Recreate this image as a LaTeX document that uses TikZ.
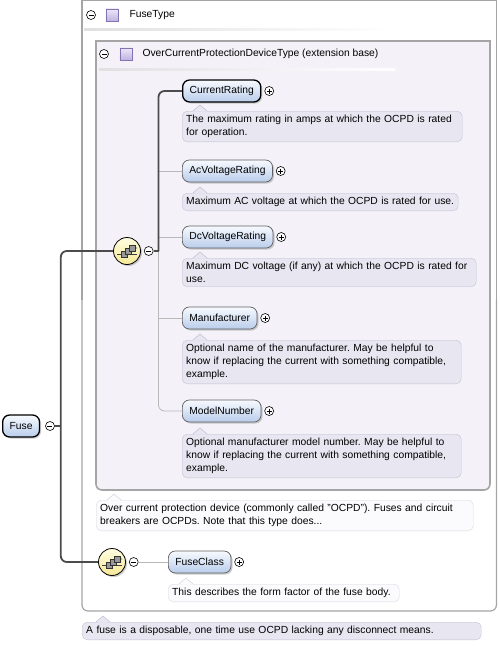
\documentclass[tikz,border=0pt]{standalone}
\usepackage{fontspec}
\setmainfont{Liberation Sans}
\usetikzlibrary{positioning,shadows}
\frenchspacing

\definecolor{pilltop}{RGB}{247,250,255}
\definecolor{pillbot}{RGB}{186,205,235}
\definecolor{pillline}{RGB}{95,95,95}
\definecolor{descfill}{RGB}{232,230,241}
\definecolor{descline}{RGB}{196,193,211}
\definecolor{notefill}{RGB}{251,251,253}
\definecolor{noteline}{RGB}{216,215,224}
\definecolor{innerfill}{RGB}{244,242,248}
\definecolor{boxline}{RGB}{165,165,165}
\definecolor{seqtop}{RGB}{255,253,225}
\definecolor{seqbot}{RGB}{245,232,150}
\definecolor{icontop}{RGB}{236,232,248}
\definecolor{iconbot}{RGB}{190,178,224}
\definecolor{iconline}{RGB}{130,115,178}

\tikzset{
  elem/.style={draw=pillline, line width=0.7pt, rounded corners=7pt, top color=pilltop, bottom color=pillbot,
    minimum height=22pt, inner xsep=7pt, anchor=west,
    drop shadow={shadow xshift=1.5pt, shadow yshift=-1.5pt, fill=black!40}},
  reqelem/.style={elem, draw=black, line width=1.3pt},
  desc/.style={draw=descline, fill=descfill, rounded corners=5pt, align=left, anchor=north west,
    inner xsep=4pt, inner ysep=4pt, text width=#1},
  note/.style={desc=#1, draw=noteline, fill=notefill},
  toggle/.style={circle, draw=black, fill=white, minimum size=9pt, inner sep=0pt, line width=0.6pt},
  minus/.style={toggle, path picture={
    \draw ([xshift=2pt]path picture bounding box.west) -- ([xshift=-2pt]path picture bounding box.east);}},
  plus/.style={toggle, path picture={
    \draw ([xshift=2pt]path picture bounding box.west) -- ([xshift=-2pt]path picture bounding box.east);
    \draw ([yshift=-2pt]path picture bounding box.north) -- ([yshift=2pt]path picture bounding box.south);}},
  seq/.style={circle, draw=black, line width=0.8pt, inner sep=0pt, minimum size=27pt,
    top color=seqtop, bottom color=seqbot,
    drop shadow={shadow xshift=1.5pt, shadow yshift=-1.5pt, fill=black!40}},
  typeicon/.style={draw=iconline, top color=icontop, bottom color=iconbot, minimum size=12.5pt, inner sep=0pt},
  wire/.style={draw=black!70, line width=1.8pt, rounded corners=6pt},
  thinwire/.style={draw=black!28, line width=0.8pt, rounded corners=6pt},
  headline/.style={left color=black!12, right color=white},
  seqicon/.pic={
    \draw[black!75, line width=0.7pt] (-10pt,-3pt) -- (10pt,-3pt);
    \draw[black!75, line width=0.7pt] (-3pt,-3pt) -- (1pt,0pt) -- (5pt,3pt) -- (10pt,3pt);
    \foreach \bx/\by in {-3/-3, 1/0, 5/3}
      \draw[black!80, fill=black!40, line width=0.5pt] (\bx pt-2.8pt,\by pt-2.8pt) rectangle (\bx pt+2.8pt,\by pt+2.8pt);
  }
}

% notch on the top edge of a description box
\newcommand{\descnotch}[4]{%
  \fill[#3] ([xshift=#2pt,yshift=-0.7pt]#1.north west) -- ++(7pt,6.7pt) -- ++(7pt,-6.7pt) -- cycle;
  \draw[#4, line width=0.6pt] ([xshift=#2pt]#1.north west) -- ++(7pt,6pt) -- ++(7pt,-6pt);
}

\begin{document}
\begin{tikzpicture}[x=1pt, y=-1pt, font=\fontsize{10.3}{13}\selectfont]
    \useasboundingbox (0,0) rectangle (500,646);

    % FuseType box
    \draw[boxline, line width=1.2pt] (82,300) -- (82,0.6) -- (496.4,0.6) -- (496.4,300);
    \draw[boxline, line width=1.2pt, rounded corners=6pt] (496.4,300) -- (496.4,611) -- (82,611) -- (82,300);
    \node[minus] (ftm) at (91,15) {};
    \node[typeicon] (fti) at (112,15) {};
    \node[anchor=west] (ft) at (126,15) {FuseType};
    \shade[headline] (84,28.5) rectangle (395,30);

    % extension base box
    \fill[innerfill] (490,300) [rounded corners=6pt] -- (490,490) -- (300,490) [sharp corners] -- (96,490) -- (96,41) -- (490,41) -- cycle;
    \draw[boxline, line width=1.6pt] (96,300) -- (96,41) -- (490,41) -- (490,300);
    \draw[boxline, line width=1.6pt, rounded corners=6pt] (490,300) -- (490,490) -- (96,490) -- (96,300);
    \node[minus] (ocm) at (104,54) {};
    \node[typeicon] (oci) at (126,54) {};
    \node[anchor=west] (oc) at (139,54) {OverCurrentProtectionDeviceType (extension base)};
    \shade[headline] (99,68.5) rectangle (395,70);

    % Root element
    \node[reqelem] (fuse) at (2,426) {Fuse};
    \node[minus, right=5pt of fuse] (fusem) {};
    \coordinate (fusebus) at ([xshift=6pt]fusem.east);

    % Sequences
    \node[seq] (seq1) at (127,251) {};
    \pic at (seq1) {seqicon};
    \node[minus, right=3pt of seq1] (seq1m) {};
    \coordinate (bus1) at ([xshift=5pt]seq1m.east);

    \node[seq] (seq2) at (112,562) {};
    \pic at (seq2) {seqicon};
    \node[minus, right=3pt of seq2] (seq2m) {};

    % Child elements
    \node[reqelem] (cr) at (182,91) {CurrentRating};
    \node[plus, right=3pt of cr] (crp) {};
    \node[desc=272pt] (crd) at (182,111) {The maximum rating in amps at which the OCPD is rated\\for operation.};

    \node[elem] (acv) at (182,171) {AcVoltageRating};
    \node[plus, right=3pt of acv] (acvp) {};
    \node[desc=268pt] (acvd) at (182,193) {Maximum AC voltage at which the OCPD is rated for use.};

    \node[elem] (dcv) at (182,237) {DcVoltageRating};
    \node[plus, right=3pt of dcv] (dcvp) {};
    \node[desc=286pt] (dcvd) at (182,258) {Maximum DC voltage (if any) at which the OCPD is rated for\\use.};

    \node[elem] (mfr) at (182,318) {Manufacturer};
    \node[plus, right=3pt of mfr] (mfrp) {};
    \node[desc=271pt] (mfrd) at (182,340) {Optional name of the manufacturer. May be helpful to\\know if replacing the current with something compatible,\\example.};

    \node[elem] (mn) at (182,411) {ModelNumber};
    \node[plus, right=3pt of mn] (mnp) {};
    \node[desc=271pt] (mnd) at (182,434) {Optional manufacturer model number. May be helpful to\\know if replacing the current with something compatible,\\example.};

    \node[elem] (fc) at (168,562) {FuseClass};
    \node[plus, right=3pt of fc] (fcp) {};
    \node[note=223pt] (fcd) at (168,584) {This describes the form factor of the fuse body.};

    % Type descriptions
    \node[note=369pt] (ocd) at (96,500) {Over current protection device (commonly called "OCPD"). Fuses and circuit\\breakers are OCPDs. Note that this type does...};
    \node[desc=391pt] (fused) at (82,622) {A fuse is a disposable, one time use OCPD lacking any disconnect means.};

    \descnotch{crd}{11}{descfill}{descline}
    \descnotch{acvd}{11}{descfill}{descline}
    \descnotch{dcvd}{11}{descfill}{descline}
    \descnotch{mfrd}{11}{descfill}{descline}
    \descnotch{mnd}{11}{descfill}{descline}
    \descnotch{fcd}{11}{notefill}{noteline}
    \descnotch{ocd}{11}{notefill}{noteline}
    \descnotch{fused}{14}{descfill}{descline}

    % Connectors
    \draw[wire] (fusem.east) -- (fusebus);
    \draw[wire] (seq1.west) -| (fusebus) |- (seq2.west);
    \draw[thinwire] (bus1) |- (mn.west);
    \draw[thinwire] (acv.west) -- (acv.west -| bus1);
    \draw[thinwire] (dcv.west) -- (dcv.west -| bus1);
    \draw[thinwire] (mfr.west) -- (mfr.west -| bus1);
    \draw[wire] (seq1m.east) -- (bus1);
    \draw[wire] (bus1) |- (cr.west);
    \draw[thinwire] (seq2m.east) -- (fc.west);
\end{tikzpicture}
\end{document}
